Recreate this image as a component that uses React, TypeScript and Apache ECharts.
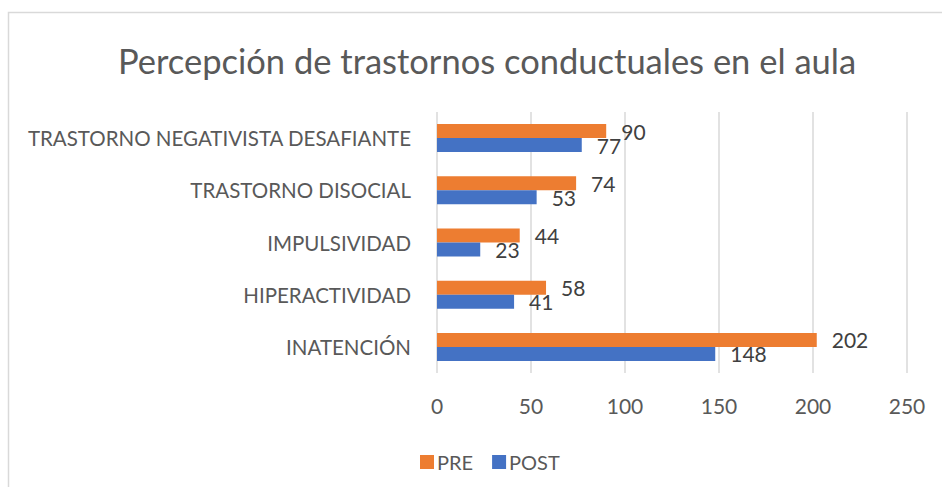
import React, { useEffect, useRef } from "react";
import * as echarts from "echarts";

const categories = [
  "INATENCIÓN",
  "HIPERACTIVIDAD",
  "IMPULSIVIDAD",
  "TRASTORNO DISOCIAL",
  "TRASTORNO NEGATIVISTA DESAFIANTE",
];
const preValues = [202, 58, 44, 74, 90];
const postValues = [148, 41, 23, 53, 77];
const seriesNames = ["PRE", "POST"];
const titleText = "Percepción de trastornos conductuales en el aula";

const FONT = "Lato, 'Open Sans', sans-serif";

export default function App() {
  const ref = useRef<HTMLDivElement>(null);
  useEffect(() => {
    if (!ref.current) return;
    const chart = echarts.init(ref.current, undefined, { renderer: "svg" });
    const labelStyle = {
      show: true,
      position: "right" as const,
      distance: 15,
      color: "#404040",
      fontSize: 21,
      fontFamily: FONT,
    };
    chart.setOption({
      animation: false,
      backgroundColor: "#ffffff",
      textStyle: { fontFamily: FONT },
      title: {
        text: titleText,
        left: 482,
        textAlign: "center",
        top: 38,
        textStyle: {
          fontFamily: FONT,
          fontSize: 34.5,
          fontWeight: "normal",
          color: "#595959",
        },
      },
      graphic: [
        {
          type: "rect",
          shape: { x: 8.5, y: 12.5, width: 1000, height: 600 },
          style: { fill: "none", stroke: "#D9D9D9", lineWidth: 1.5 },
          silent: true,
        },
      ],
      legend: {
        data: seriesNames,
        left: 415,
        top: 447,
        icon: "rect",
        itemWidth: 14,
        itemHeight: 14,
        itemGap: 19,
        textStyle: { fontFamily: FONT, fontSize: 20, color: "#595959", padding: [0, 0, 0, -2] },
      },
      grid: { left: 437, right: 35, top: 112, bottom: 114, containLabel: false },
      xAxis: {
        type: "value",
        min: 0,
        max: 250,
        interval: 50,
        axisLine: { show: false },
        axisTick: { show: false },
        axisLabel: { color: "#595959", fontSize: 21, fontFamily: FONT, margin: 22 },
        splitLine: { show: true, lineStyle: { color: "#D9D9D9", width: 1.5 } },
      },
      yAxis: {
        type: "category",
        data: categories,
        axisLine: { show: false },
        axisTick: { show: false },
        axisLabel: { color: "#595959", fontSize: 20.5, fontFamily: FONT, margin: 26 },
        splitLine: { show: false },
      },
      series: [
        {
          name: seriesNames[0],
          type: "bar",
          data: preValues,
          barWidth: 14,
          barGap: "0%",
          itemStyle: { color: "#ED7D31" },
          label: labelStyle,
        },
        {
          name: seriesNames[1],
          type: "bar",
          data: postValues,
          barWidth: 14,
          barGap: "0%",
          itemStyle: { color: "#4472C4" },
          label: labelStyle,
        },
      ],
    });
    return () => chart.dispose();
  }, []);
  return (
    <div
      ref={ref}
      style={{ position: "absolute", left: 0, top: 0, width: 942, height: 487 }}
    />
  );
}
